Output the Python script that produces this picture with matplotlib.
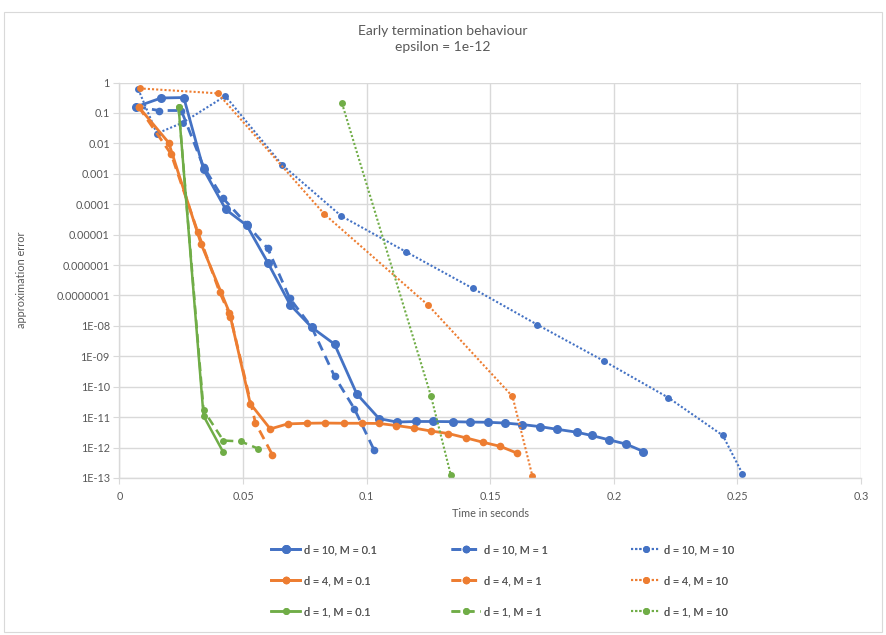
import matplotlib
matplotlib.use("Agg")
import matplotlib.pyplot as plt
from matplotlib.patches import Rectangle
from matplotlib.ticker import FixedLocator, FixedFormatter

# ---------------- data ----------------
d10_m01_t = [0.0068, 0.0169, 0.026, 0.034, 0.043, 0.0515, 0.060, 0.069, 0.0778, 0.087, 0.096,
             0.105, 0.1122, 0.120, 0.127, 0.135, 0.142, 0.149, 0.156, 0.163, 0.170, 0.177,
             0.185, 0.191, 0.198, 0.205, 0.212]
d10_m01_e = [0.16, 0.31, 0.32, 1.4e-3, 6.7e-5, 2.0e-5, 1.2e-6, 5e-8, 8.9e-9, 2.5e-9, 5.8e-11,
             9e-12, 6.9e-12, 7.2e-12, 7.2e-12, 7.1e-12, 6.9e-12, 6.8e-12, 6.4e-12, 5.7e-12,
             4.9e-12, 4.0e-12, 3.2e-12, 2.5e-12, 1.8e-12, 1.3e-12, 7.4e-13]

d10_m1_t = [0.0068, 0.016, 0.025, 0.034, 0.0418, 0.0515, 0.060, 0.0688, 0.0778, 0.087, 0.095, 0.103]
d10_m1_e = [0.16, 0.12, 0.12, 1.7e-3, 1.6e-4, 2.2e-5, 3.5e-6, 8.3e-8, 8.9e-9, 2.2e-10, 1.9e-11, 8.3e-13]

d10_m10_t = [0.0076, 0.0151, 0.0256, 0.0428, 0.0657, 0.0897, 0.116, 0.143, 0.169, 0.196,
             0.222, 0.2441, 0.252]
d10_m10_e = [0.6, 0.021, 0.048, 0.36, 2.0e-3, 4.1e-5, 2.7e-6, 1.7e-7, 1.1e-8, 7e-10,
             4.4e-11, 2.5e-12, 1.4e-13]

d4_m01_t = [0.0077, 0.0199, 0.033, 0.0445, 0.0529, 0.061, 0.068, 0.076, 0.083, 0.091, 0.098,
            0.105, 0.112, 0.119, 0.126, 0.133, 0.140, 0.147, 0.154, 0.161]
d4_m01_e = [0.16, 0.0105, 5e-6, 2.7e-8, 2.8e-11, 4.1e-12, 6e-12, 6.3e-12, 6.4e-12, 6.3e-12,
            6.3e-12, 6.2e-12, 5.3e-12, 4.4e-12, 3.5e-12, 2.9e-12, 2.1e-12, 1.5e-12, 1.1e-12, 6.5e-13]

d4_m1_t = [0.0077, 0.0209, 0.0317, 0.0405, 0.0449, 0.055, 0.0619]
d4_m1_e = [0.16, 0.0044, 1.2e-5, 1.3e-7, 2e-8, 6.5e-12, 5.7e-13]

d4_m10_t = [0.0081, 0.0398, 0.0829, 0.125, 0.159, 0.167]
d4_m10_e = [0.64, 0.44, 4.7e-5, 4.7e-8, 4.8e-11, 1.2e-13]

d1_m01_t = [0.0239, 0.034, 0.042]
d1_m01_e = [0.16, 1.1e-11, 7e-13]

d1_m1_t = [0.0239, 0.034, 0.042, 0.049, 0.056]
d1_m1_e = [0.16, 1.7e-11, 1.7e-12, 1.6e-12, 9.3e-13]

d1_m10_t = [0.090, 0.126, 0.134]
d1_m10_e = [0.21, 5e-11, 1.3e-13]

y_ticks = [1e-13, 1e-12, 1e-11, 1e-10, 1e-9, 1e-8, 1e-7, 1e-6, 1e-5, 1e-4, 1e-3, 1e-2, 1e-1, 1]
y_labels = ["1E-13", "1E-12", "1E-11", "1E-10", "1E-09", "1E-08", "0.0000001", "0.000001",
            "0.00001", "0.0001", "0.001", "0.01", "0.1", "1"]
x_ticks = [0, 0.05, 0.1, 0.15, 0.2, 0.25, 0.3]
x_labels = ["0", "0.05", "0.1", "0.15", "0.2", "0.25", "0.3"]

title_line1 = "Early termination behaviour"
title_line2 = "epsilon = 1e-12"
x_title = "Time in seconds"
y_title = "approximation error"

# ---------------- style ----------------
plt.rcParams['font.family'] = ['Lato', 'DejaVu Sans']
BLUE = "#4472C4"
ORANGE = "#ED7D31"
GREEN = "#70AD47"
TXT = "#595959"
GRID = "#D9D9D9"

fig = plt.figure(figsize=(8.86, 6.35), dpi=100)
fig.patches.append(Rectangle((4 / 886, 1 - 632 / 635), 878 / 886, 620 / 635,
                             transform=fig.transFigure, fill=False,
                             edgecolor=GRID, linewidth=0.8))
ax = fig.add_axes([119.5 / 886, 1 - 478 / 635, (861 - 119.5) / 886, (478 - 82.5) / 635])

solid = dict(linestyle='-')
dashed = dict(linestyle=(0, (3.5, 2.2)))
dotted = dict(linestyle=(0, (1, 1)))

series = [
    (d10_m01_t, d10_m01_e, BLUE, solid, 2.0, 6.5, "d = 10, M = 0.1"),
    (d10_m1_t, d10_m1_e, BLUE, dashed, 2.0, 5.5, "d = 10, M = 1"),
    (d10_m10_t, d10_m10_e, BLUE, dotted, 1.5, 5.0, "d = 10, M = 10"),
    (d4_m01_t, d4_m01_e, ORANGE, solid, 2.0, 5.5, "d = 4, M = 0.1"),
    (d4_m1_t, d4_m1_e, ORANGE, dashed, 2.0, 5.5, "d = 4, M = 1"),
    (d4_m10_t, d4_m10_e, ORANGE, dotted, 1.5, 5.0, "d = 4, M = 10"),
    (d1_m01_t, d1_m01_e, GREEN, solid, 1.8, 5.0, "d = 1, M = 0.1"),
    (d1_m1_t, d1_m1_e, GREEN, dashed, 1.8, 5.0, "d = 1, M = 1"),
    (d1_m10_t, d1_m10_e, GREEN, dotted, 1.5, 5.0, "d = 1, M = 10"),
]

handles = []
for t, e, c, ls, lw, ms, lab in series:
    h, = ax.plot(t, e, color=c, lw=lw, marker='o', markersize=ms,
                 markeredgewidth=0, label=lab, **ls)
    handles.append(h)

ax.set_yscale('log')
ax.set_xlim(0, 0.3)
ax.set_ylim(1e-13, 1)
ax.yaxis.set_major_locator(FixedLocator(y_ticks))
ax.yaxis.set_major_formatter(FixedFormatter(y_labels))
ax.yaxis.set_minor_locator(FixedLocator([]))
ax.xaxis.set_major_locator(FixedLocator(x_ticks))
ax.xaxis.set_major_formatter(FixedFormatter(x_labels))

ax.grid(True, which='major', color=GRID, linewidth=1.0)
ax.set_axisbelow(True)
for s in ['top', 'right']:
    ax.spines[s].set_visible(False)
for s in ['left', 'bottom']:
    ax.spines[s].set_color(GRID)
    ax.spines[s].set_linewidth(1.0)
ax.tick_params(axis='both', colors=GRID, labelcolor=TXT, labelsize=7.8, length=4, width=0.8)
ax.tick_params(axis='y', pad=3)
ax.tick_params(axis='x', pad=5)

ax.set_xlabel(x_title, color=TXT, fontsize=7.8, labelpad=5)
ax.set_ylabel(y_title, color=TXT, fontsize=7.8, labelpad=21)

fig.text(0.5, 1 - 31 / 635, title_line1, ha='center', va='center', color=TXT, fontsize=10)
fig.text(0.5, 1 - 47 / 635, title_line2, ha='center', va='center', color=TXT, fontsize=10)

# legend: three columns (M values), rows are d values
col_x = [271, 451, 631]
for ci in range(3):
    idx = [ci, 3 + ci, 6 + ci]
    leg = fig.legend([handles[i] for i in idx], [series[i][6] for i in idx],
                     ncol=1, loc='upper left', bbox_to_anchor=(col_x[ci] / 886, 1 - 544 / 635),
                     frameon=False, fontsize=7.8, labelcolor=TXT, handlelength=2.7,
                     handletextpad=0.3, labelspacing=1.85,
                     borderaxespad=0, borderpad=0)
    fig.add_artist(leg)

fig.savefig("out.png", dpi=100)
